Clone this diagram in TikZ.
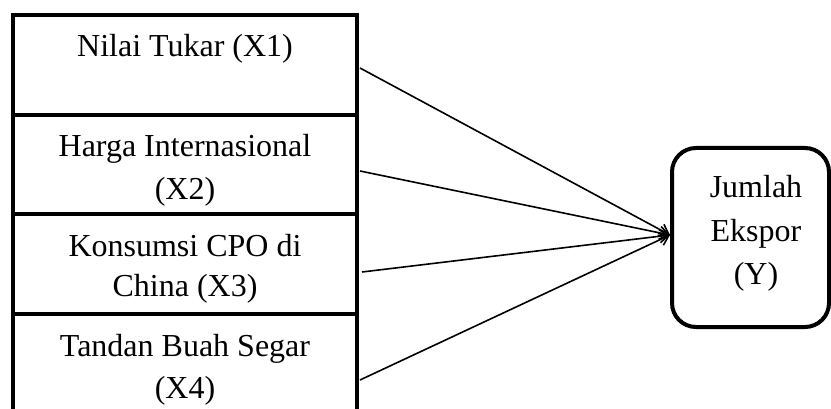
\documentclass[tikz,border=0pt]{standalone}
\usepackage{fontspec}
\setmainfont{Liberation Serif}
\usetikzlibrary{arrows.meta}
\begin{document}
\begin{tikzpicture}[x=1pt,y=-1pt,
  box/.style={draw,line width=4pt,minimum width=344pt,inner sep=0pt},
  ybox/.style={draw,line width=4pt,rounded corners=24pt,minimum width=157pt,minimum height=179pt,inner sep=0pt},
  lbl/.style={font=\fontsize{32}{41}\selectfont,anchor=base,inner sep=0pt},
  conn/.style={line width=1.6pt,-{Straight Barb[length=9pt,width=13pt,line width=1.6pt]}}]
\useasboundingbox (0,0) rectangle (831,409);
% left boxes
\node[box,minimum height=100pt] (b1) at (185,65) {};
\node[box,minimum height=99pt] (b2) at (185,164.5) {};
\node[box,minimum height=100pt] (b3) at (185,264) {};
\node[box,minimum height=100pt] (b4) at (185,364) {};
% texts
\node[lbl] (t1) at (185,57) {Nilai Tukar (X1)};
\node[lbl] (t2a) at (185,157) {Harga Internasional};
\node[lbl] (t2b) at (185,200) {(X2)};
\node[lbl] (t3a) at (185,257) {Konsumsi CPO di};
\node[lbl] (t3b) at (185,297) {China (X3)};
\node[lbl] (t4a) at (185,356) {Tandan Buah Segar};
\node[lbl] (t4b) at (185,398) {(X4)};
% right box
\node[ybox] (Y) at (750.5,237.5) {};
\node[lbl] (ya) at (756,198) {Jumlah};
\node[lbl] (yb) at (756,242) {Ekspor};
\node[lbl] (yc) at (756,284) {(Y)};
% connectors
\coordinate (s1) at (360,68);
\coordinate (s2) at (360,171);
\coordinate (s3) at (362,272);
\coordinate (s4) at (360,380);
\coordinate (tip) at (670,235);
\draw[conn] (s1) -- (tip);
\draw[conn] (s2) -- (tip);
\draw[conn] (s3) -- (tip);
\draw[conn] (s4) -- (tip);
\end{tikzpicture}
\end{document}
